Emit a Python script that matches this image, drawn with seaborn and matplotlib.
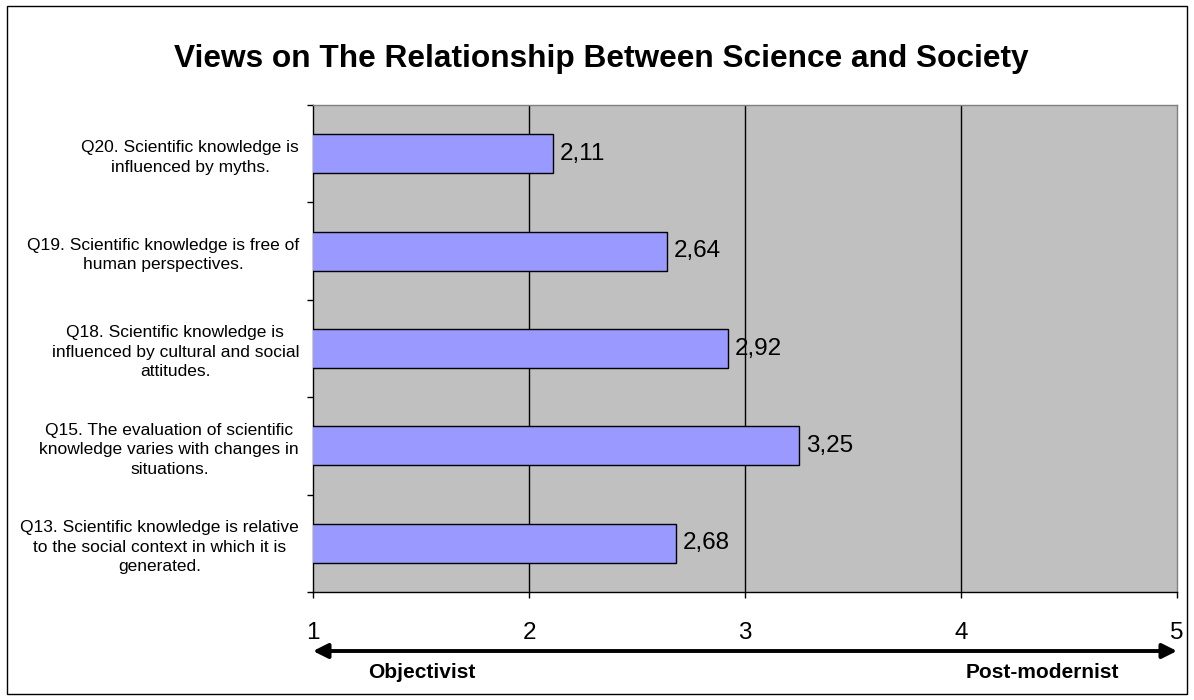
import matplotlib
matplotlib.use("Agg")
import matplotlib.pyplot as plt
import numpy as np
import pandas as pd
import seaborn as sns
from matplotlib.patches import Rectangle

# Survey items (top to bottom) and their mean scores on a 1-5 scale
questions = [
    "Q20. Scientific knowledge is\ninfluenced by myths.",
    "Q19. Scientific knowledge is free of\nhuman perspectives.",
    "Q18. Scientific knowledge is\ninfluenced by cultural and social\nattitudes.",
    "Q15. The evaluation of scientific\nknowledge varies with changes in\nsituations.",
    "Q13. Scientific knowledge is relative\nto the social context in which it is\ngenerated.",
]
scores = [2.11, 2.64, 2.92, 3.25, 2.68]
scale_ticks = [1, 2, 3, 4, 5]
pole_labels = ["Objectivist", "Post-modernist"]
title = "Views on The Relationship Between Science and Society"

sns.set_theme(style="white")
plt.rcParams["font.family"] = ["Liberation Sans", "DejaVu Sans"]

W, H = 1194, 700
fig = plt.figure(figsize=(W / 100, H / 100), dpi=100)
fig.patch.set_facecolor("white")

left, right, top, bottom = 313, 1177, 105, 592
ax = fig.add_axes([left / W, 1 - bottom / H, (right - left) / W, (bottom - top) / H])
ax.set_facecolor("#C0C0C0")

df = pd.DataFrame({"question": questions, "score": scores})
sns.barplot(data=df, x="score", y="question", orient="h", color="#9999FF",
            saturation=1, edgecolor="black", linewidth=1, width=0.4,
            ax=ax, zorder=3)

ax.set_xlim(scale_ticks[0], scale_ticks[-1])
ax.set_xticks(scale_ticks)
ax.set_xlabel("")
ax.set_ylabel("")

# vertical gridlines at interior scale points
for v in scale_ticks[1:-1]:
    ax.axvline(v, color="black", lw=1, zorder=1)

# value labels with decimal comma
for i, v in enumerate(scores):
    ax.text(v + 0.032, i, f"{v:.2f}".replace(".", ","), va="center", ha="left",
            fontsize=17.5, color="black", zorder=4)

# category labels: centred multi-line text, right-anchored
ax.tick_params(axis="y", which="major", length=0, pad=10, labelsize=12.5,
               labelcolor="black")
for lab in ax.get_yticklabels():
    lab.set_multialignment("center")
    lab.set_linespacing(1.38)

# tick marks on category boundaries
ax.set_yticks(np.arange(-0.5, len(questions), 1.0), minor=True)
ax.tick_params(axis="y", which="minor", length=4.3, width=1, color="black",
               direction="out", left=True)
ax.tick_params(axis="x", which="major", length=4.3, width=1, color="black",
               direction="out", bottom=True, pad=17.5, labelsize=17.5,
               labelcolor="black")

for side in ["left", "bottom"]:
    ax.spines[side].set_color("black")
    ax.spines[side].set_linewidth(1)
for side in ["top", "right"]:
    ax.spines[side].set_color("#808080")
    ax.spines[side].set_linewidth(1)

# double-headed scale arrow under the axis
arrow_y = (bottom - 651) / (bottom - top)
ax.annotate("", xy=(0, arrow_y), xytext=(1, arrow_y), xycoords="axes fraction",
            textcoords="axes fraction",
            arrowprops=dict(arrowstyle="<|-|>", lw=2.8, color="black",
                            mutation_scale=22, shrinkA=0, shrinkB=0),
            annotation_clip=False)

fig.text(422 / W, 1 - 678 / H, pole_labels[0], ha="center", va="baseline",
         fontsize=15, fontweight="bold", color="black")
fig.text(1042 / W, 1 - 678 / H, pole_labels[1], ha="center", va="baseline",
         fontsize=15, fontweight="bold", color="black")

fig.text(601 / W, 1 - 67 / H, title, ha="center", va="baseline",
         fontsize=22.8, fontweight="bold", color="black")

# outer frame
fig.add_artist(Rectangle((7 / W, 1 - 694 / H), (1187 - 7) / W, (694 - 6) / H,
                         transform=fig.transFigure, fill=False,
                         edgecolor="black", lw=1))

fig.savefig("out.png", dpi=100)
